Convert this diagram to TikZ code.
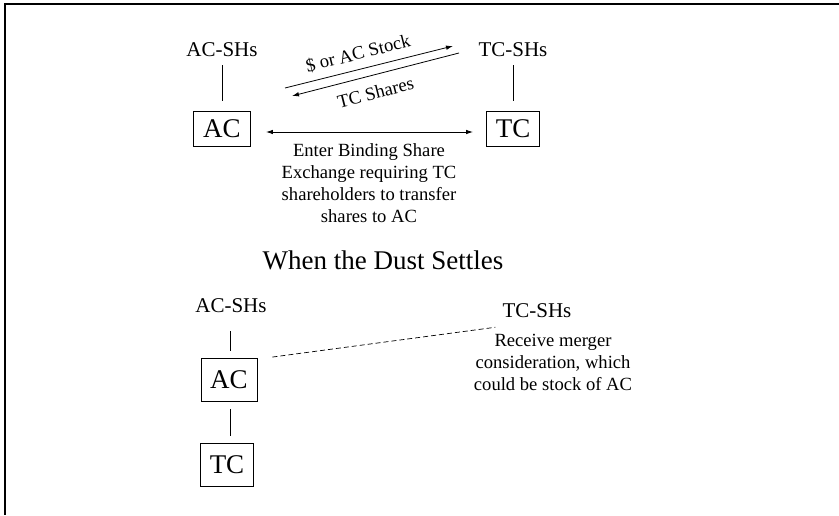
\documentclass[tikz,border=0pt]{standalone}
\usepackage{fontspec}
\setmainfont{Liberation Serif}
\usetikzlibrary{arrows.meta}
\begin{document}
\begin{tikzpicture}[x=1pt,y=-1pt,
  lbl/.style={font=\fontsize{18.6}{22}\selectfont, inner sep=0pt},
  shl/.style={font=\fontsize{21}{24}\selectfont, inner sep=0pt},
  ent/.style={draw, line width=0.9pt, font=\fontsize{27}{30}\selectfont, inner sep=0pt},
  conn/.style={line width=0.7pt},
  arr/.style={line width=0.8pt, -{Latex[length=7pt,width=4.5pt]}},
  dbl/.style={line width=0.8pt, {Latex[length=7pt,width=4.5pt]}-{Latex[length=7pt,width=4.5pt]}},
]
\useasboundingbox (0,0) rectangle (839,515);
\draw[line width=1.6pt] (839,4) -- (5,4) -- (5,515);

% ---- top section ----
\node[shl] (acsh1) at (222,50) {AC-SHs};
\node[shl] (tcsh1) at (513,50) {TC-SHs};
\node[ent, minimum width=57pt, minimum height=35pt] (ac1) at (222,129) {AC};
\node[ent, minimum width=53pt, minimum height=35pt] (tc1) at (513,129) {TC};
\draw[conn, shorten <=8pt, shorten >=10pt] (acsh1) -- (ac1);
\draw[conn, shorten <=8pt, shorten >=10pt] (tcsh1) -- (tc1);
\draw[dbl] ([shift={(15,3)}]ac1.east) -- ([shift={(-13,3)}]tc1.west);
\node[lbl, align=center] (bind) at (369,183) {Enter Binding Share\\Exchange requiring TC\\shareholders to transfer\\shares to AC};

\coordinate (p1) at (285,88);
\coordinate (p2) at (453,46);
\coordinate (q1) at (459,53);
\coordinate (q2) at (292,96);
\draw[arr] (p1) -- (p2);
\draw[arr] (q1) -- (q2);
\node[lbl, rotate=14] (pay) at (358,53.5) {\$ or AC Stock};
\node[lbl, rotate=14.3] (shr) at (375.5,92.5) {TC Shares};

% ---- bottom section ----
\node[font=\fontsize{27}{30}\selectfont, inner sep=0pt] (title) at (383,260) {When the Dust Settles};
\node[shl] (acsh2) at (231,306) {AC-SHs};
\node[ent, minimum width=56pt, minimum height=43pt] (ac2) at (229,380) {AC};
\node[ent, minimum width=53pt, minimum height=43pt] (tc2) at (227,465) {TC};
\draw[conn] ([yshift=-18pt]acsh2.south -| 230,0) -- ([yshift=7pt]ac2.north -| 230,0);
\node[shl] (tcsh2) at (537,311) {TC-SHs};
\node[lbl, align=center] (recv) at (553,362) {Receive merger\\consideration, which\\could be stock of AC};
\draw[conn] ([yshift=-7pt]ac2.south -| 230,0) -- ([yshift=7pt]tc2.north -| 230,0);
\draw[conn, dash pattern=on 5pt off 3pt] ([shift={(15,-1)}]ac2.north east) -- ([shift={(-7,9)}]tcsh2.south west);
\end{tikzpicture}
\end{document}
